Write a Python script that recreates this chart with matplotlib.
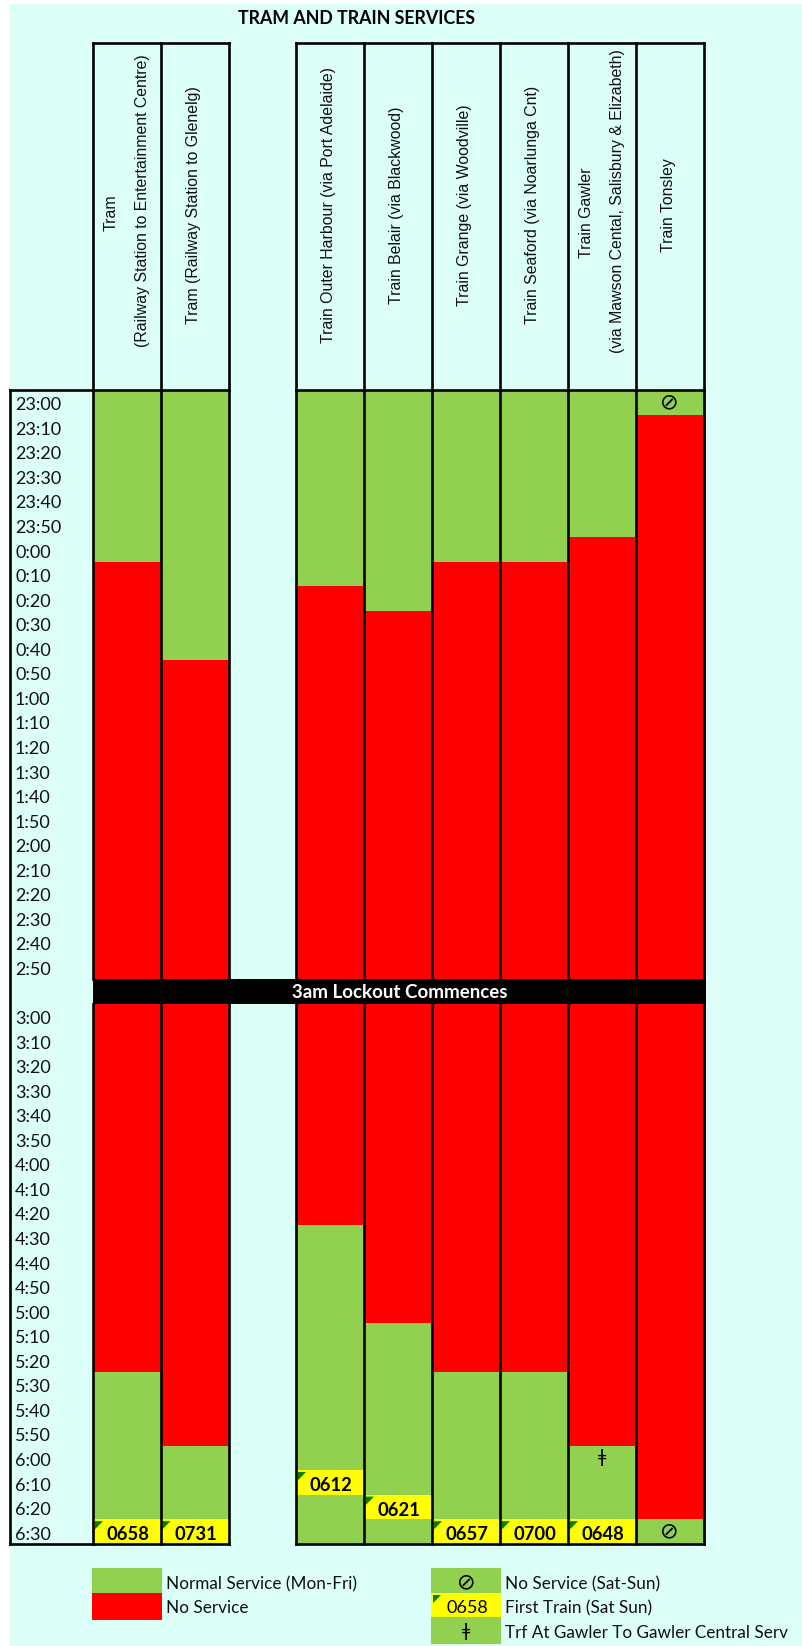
import matplotlib
matplotlib.use('Agg')
import matplotlib.pyplot as plt
from matplotlib.patches import Rectangle, Polygon

plt.rcParams['font.family'] = ['Lato', 'DejaVu Sans']

GREEN = '#92D050'
RED = '#FF0000'
YELLOW = '#FFFF00'
MINT = '#DCFFF8'
FLAG = '#008000'

times = ['23:00', '23:10', '23:20', '23:30', '23:40', '23:50',
         '0:00', '0:10', '0:20', '0:30', '0:40', '0:50',
         '1:00', '1:10', '1:20', '1:30', '1:40', '1:50',
         '2:00', '2:10', '2:20', '2:30', '2:40', '2:50', '',
         '3:00', '3:10', '3:20', '3:30', '3:40', '3:50',
         '4:00', '4:10', '4:20', '4:30', '4:40', '4:50',
         '5:00', '5:10', '5:20', '5:30', '5:40', '5:50',
         '6:00', '6:10', '6:20', '6:30']

# 每列: 绿色结束行, 红色结束行 (row 24 = lockout)
evening_end = [7, 11, 8, 9, 7, 7, 6, 1]
morning_start = [40, 43, 34, 38, 40, 40, 43, 46]
first_train = ['0658', '0731', '0612', '0621', '0657', '0700', '0648', None]
first_row = [46, 46, 44, 45, 46, 46, 46, None]

headers = [['Tram', '(Railway Station to Entertainment Centre)'],
           ['Tram (Railway Station to Glenelg)'],
           ['Train Outer Harbour (via Port Adelaide)'],
           ['Train Belair (via Blackwood)'],
           ['Train Grange (via Woodville)'],
           ['Train Seaford (via Noarlunga Cnt)'],
           ['Train Gawler', '(via Mawson Cental, Salisbury & Elizabeth)'],
           ['Train Tonsley']]

# column edges in pixels
edges = [(93, 160.5), (160.5, 229), (296, 364), (364, 432),
         (432, 500), (500, 568), (568, 636), (636, 703.5)]

W, H = 802, 1646
ROW_H = 24.553
TOP = 390
LW = 1.9
HEAD_FONT = ['Liberation Sans']
HEAD_SIZE = 11.4


def py(p):
    return (p - TOP) / ROW_H


fig = plt.figure(figsize=(W / 100, H / 100), dpi=100, facecolor='white')
ax = fig.add_axes([0, 0, 1, 1])
ax.set_xlim(0, W)
ax.set_ylim(py(H), py(0))
ax.axis('off')

ax.add_patch(Rectangle((9, py(4)), W - 9, py(H) - py(4), fc=MINT, ec='none', zorder=0))

ax.text(357, py(19), 'TRAM AND TRAIN SERVICES', ha='center', va='center',
        fontsize=12.8, fontweight='bold', color='black')

# time labels
for i, t in enumerate(times):
    ax.text(15, i + 0.62, t, ha='left', va='center', fontsize=13, color='#111111')

# service bars
for i, (x0, x1) in enumerate(edges):
    wid = x1 - x0
    extra = 2 if i == len(edges) - 1 else 0
    ax.bar(x0, evening_end[i], width=wid + extra, bottom=0, align='edge', color=GREEN, zorder=1)
    ax.bar(x0, morning_start[i] - evening_end[i], width=wid + extra, bottom=evening_end[i],
           align='edge', color=RED, zorder=1)
    ax.bar(x0, 47 - morning_start[i], width=wid + extra, bottom=morning_start[i],
           align='edge', color=GREEN, zorder=1)
    if first_train[i] is not None:
        r = first_row[i]
        ax.bar(x0, 1, width=wid, bottom=r, align='edge', color=YELLOW, zorder=2)
        ax.add_patch(Polygon([(x0 + 2, r + 0.07), (x0 + 10, r + 0.07), (x0 + 2, r + 0.4)],
                             fc=FLAG, ec='none', zorder=3))
        ax.text((x0 + x1) / 2 + 1, r + 0.62, first_train[i], ha='center', va='center',
                fontsize=13.2, fontweight='bold', color='black', zorder=4)
    # header text
    lines = headers[i]
    cx = (x0 + x1) / 2
    if len(lines) == 2:
        ax.text(cx - 15.5, py(213), lines[0], rotation=90, ha='center', va='center',
                family=HEAD_FONT, fontsize=HEAD_SIZE, color='#111111')
        ax.text(cx + 15.5, py(201), lines[1], rotation=90, ha='center', va='center',
                family=HEAD_FONT, fontsize=HEAD_SIZE, color='#111111')
    else:
        ax.text(cx - 1, py(205), lines[0], rotation=90, ha='center', va='center',
                family=HEAD_FONT, fontsize=HEAD_SIZE, color='#111111')

# symbols
sym = ['DejaVu Sans']
ax.text((edges[7][0] + edges[7][1]) / 2, 0.5, '\u2298', ha='center', va='center',
        family=sym, fontsize=16, zorder=4)
ax.text((edges[7][0] + edges[7][1]) / 2, 46.5, '\u2298', ha='center', va='center',
        family=sym, fontsize=16, zorder=4)
ax.text((edges[6][0] + edges[6][1]) / 2, 43.45, '\u01c2', ha='center', va='center',
        family=sym, fontsize=13, zorder=4)

# lockout bar
ax.bar(93, 1, width=705.5 - 93, bottom=24, align='edge', color='black', zorder=5)
ax.text(400, 24.55, '3am Lockout Commences', ha='center', va='center', color='white',
        fontsize=13.5, fontweight='bold', zorder=6)

# grid lines
groups = [(93, 229), (296, 703.5)]
for a, b in groups:
    ax.plot([a, b], [py(43), py(43)], color='black', lw=LW, zorder=7, solid_capstyle='projecting')
    ax.plot([a, b], [0, 0], color='black', lw=LW, zorder=7, solid_capstyle='projecting')
    ax.plot([a, b], [47, 47], color='black', lw=LW, zorder=7, solid_capstyle='projecting')
ax.plot([10, 93], [0, 0], color='black', lw=LW, zorder=7)
ax.plot([10, 93], [47, 47], color='black', lw=LW, zorder=7)
ax.plot([10, 10], [0, 47], color='black', lw=LW, zorder=7, solid_capstyle='projecting')
lines_x = sorted({e for pair in edges for e in pair})
for x in lines_x:
    ax.plot([x, x], [py(43), 24], color='black', lw=LW, zorder=7)
    ax.plot([x, x], [25, 47], color='black', lw=LW, zorder=7)

# legend
leg_left = ['Normal Service (Mon-Fri)', 'No Service']
leg_right = ['No Service (Sat-Sun)', 'First Train (Sat Sun)', 'Trf At Gawler To Gawler Central Serv']
lx0, lx1 = 92, 162
rx0, rx1 = 431, 501
ax.bar(lx0, py(1593) - py(1568), width=lx1 - lx0, bottom=py(1568), align='edge', color=GREEN)
ax.bar(lx0, py(1620) - py(1593), width=lx1 - lx0, bottom=py(1593), align='edge', color=RED)
ax.bar(rx0, py(1593) - py(1568), width=rx1 - rx0, bottom=py(1568), align='edge', color=GREEN)
ax.bar(rx0, py(1617) - py(1593), width=rx1 - rx0, bottom=py(1593), align='edge', color=YELLOW)
ax.bar(rx0, py(1644) - py(1617), width=rx1 - rx0, bottom=py(1617), align='edge', color=GREEN)
ax.add_patch(Polygon([(rx0 + 2, py(1595)), (rx0 + 10, py(1595)), (rx0 + 2, py(1603))],
                     fc=FLAG, ec='none', zorder=3))
ax.text((rx0 + rx1) / 2, py(1582), '\u2298', ha='center', va='center', family=sym, fontsize=16)
ax.text((rx0 + rx1) / 2 + 1, py(1608), '0658', ha='center', va='center', fontsize=13)
ax.text((rx0 + rx1) / 2, py(1631), '\u01c2', ha='center', va='center', family=sym, fontsize=13)

for t, p in zip(leg_left, [1584, 1608]):
    ax.text(166, py(p), t, ha='left', va='center', fontsize=12.3, color='#111111')
for t, p in zip(leg_right, [1584, 1608, 1633]):
    ax.text(505, py(p), t, ha='left', va='center', fontsize=12.3, color='#111111')

fig.savefig('out.png', dpi=100, facecolor='white')
